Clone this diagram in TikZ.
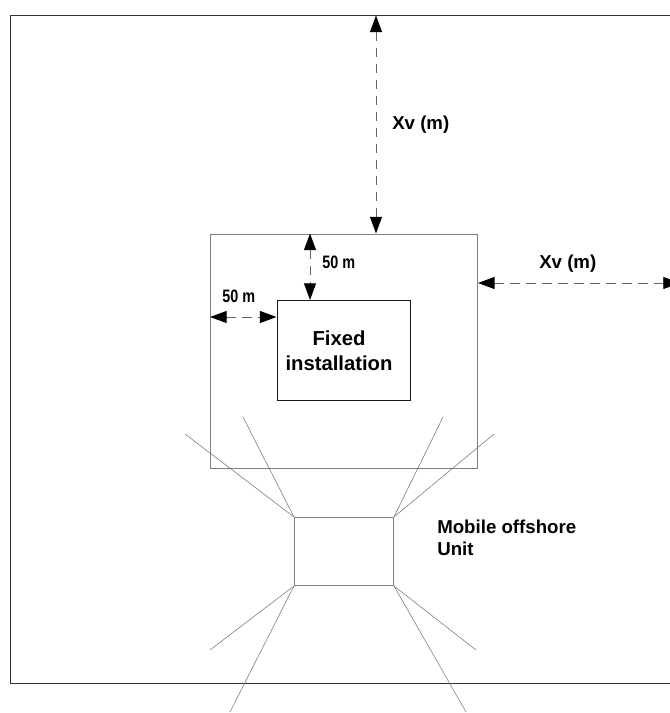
\documentclass[tikz,border=0pt]{standalone}
\usepackage{fontspec}
\setmainfont{Liberation Sans}
\usetikzlibrary{arrows.meta}
\usetikzlibrary{calc}
\tikzset{
area/.style={
	rectangle,
	draw=black!50,
	line width=0.7pt,
	inner sep=0pt
},
dimarrow/.style={
	{Stealth[inset=0pt,length=12.5pt,width=9pt,black]}-{Stealth[inset=0pt,length=12.5pt,width=9pt,black]},
	draw=black!60,
	line width=0.7pt,
	dash pattern=on 7pt off 5pt
},
leg/.style={
	draw=black!55,
	line width=0.4pt
},
dimlabel/.style={
	font=\fontsize{14}{16.5}\selectfont\bfseries,
	align=left,
	inner sep=0pt
},
smalllabel/.style={
	font=\fontsize{13.5}{16}\selectfont\bfseries,
	inner sep=0pt
}
}

\begin{document}
\begin{tikzpicture}[x=0.75pt, y=-0.75pt]
\useasboundingbox (0,0) rectangle (669,713);

% Site boundary runs off the right edge
\node (Site) [area, draw=black!80, minimum width=502.5pt, minimum height=500.6pt, anchor=north west] at (10,15.5) {};

\node (Zone) [area, minimum width=200.25pt, minimum height=175.5pt, anchor=north west] at (210,233.5) {};
\node (Fixed) [area, draw=black!90, minimum width=100.1pt, minimum height=75pt, anchor=north west] at (276.5,300) {};
\node (FixedLabel) [font=\fontsize{15.2}{18.75}\selectfont\bfseries, align=center, inner sep=0pt] at (339,351) {Fixed\\installation};
\node (Unit) [area, minimum width=74.25pt, minimum height=51pt, anchor=north west] at (294,517) {};

% Mooring lines
\coordinate (LegA) at (185,434);
\coordinate (LegB) at (243,417);
\coordinate (LegC) at (494,434);
\coordinate (LegD) at (443,417);
\coordinate (LegE) at (210,650);
\coordinate (LegF) at (230,712);
\coordinate (LegG) at (476,650);
\coordinate (LegH) at (466,712);
\draw[leg] (Unit.north west) -- (LegA);
\draw[leg] (Unit.north west) -- (LegB);
\draw[leg] (Unit.north east) -- (LegC);
\draw[leg] (Unit.north east) -- (LegD);
\draw[leg] (Unit.south west) -- (LegE);
\draw[leg] (Unit.south west) -- (LegF);
\draw[leg] (Unit.south east) -- (LegG);
\draw[leg] (Unit.south east) -- (LegH);

% Distances
\coordinate (TopX) at (376,0);
\coordinate (RightY) at (0,283);
\coordinate (InnerX) at (310,0);
\coordinate (InnerY) at (0,317);
\draw[dimarrow] (Site.north -| TopX) -- (Zone.north -| TopX);
\draw[dimarrow] (Zone.east |- RightY) -- ($(Site.east |- RightY)+(-1,0)$);
\draw[dimarrow] (Zone.north -| InnerX) -- (Fixed.north -| InnerX);
\draw[dimarrow] (Zone.west |- InnerY) -- (Fixed.west |- InnerY);

\node (XvTop) [dimlabel, anchor=west] at (392,125) {Xv (m)};
\node (XvRight) [dimlabel, anchor=west] at (539,264) {Xv (m)};
\node (GapTop) [smalllabel, anchor=west] at (322,262) {\scalebox{0.8}[1]{50 m}};
\node (GapLeft) [smalllabel, anchor=west] at (222,296) {\scalebox{0.8}[1]{50 m}};
\node (UnitLabel) [dimlabel, anchor=north west] at (437,520) {Mobile offshore\\Unit};

\end{tikzpicture}
\end{document}
